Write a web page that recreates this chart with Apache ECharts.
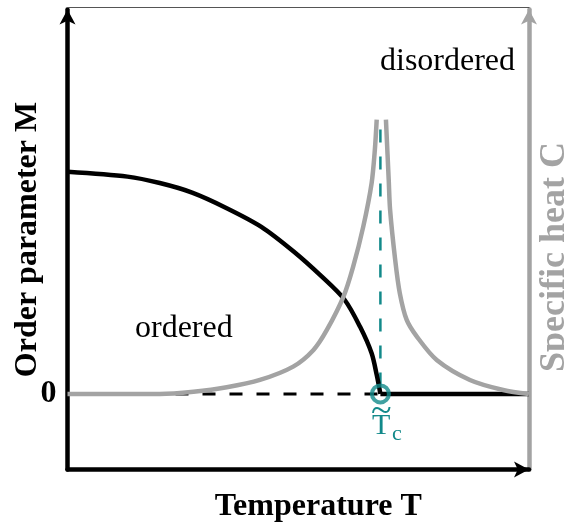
<!DOCTYPE html>
<html>
<head>
<meta charset="utf-8">
<script src="https://cdn.jsdelivr.net/npm/echarts@6/dist/echarts.min.js"></script>
<style>
  html, body { margin: 0; padding: 0; background: #fff; }
  #main { width: 564px; height: 527px; }
</style>
</head>
<body>
<div id="main"></div>
<script>
// critical temperature (scaled so the T axis runs 0..1)
var tc = 0.678;

// order parameter M below Tc
var mT = [0, 0.13, 0.2, 0.27, 0.345, 0.42, 0.49, 0.55, 0.6, 0.634, 0.659, 0.67, 0.678];
var mVal = [1.0, 0.978, 0.949, 0.906, 0.836, 0.752, 0.641, 0.53, 0.425, 0.302, 0.183, 0.086, 0];

// specific heat C, branch below and above Tc
var cLowT = [0, 0.2, 0.273, 0.345, 0.417, 0.489, 0.533, 0.562, 0.598, 0.619, 0.641, 0.659, 0.666, 0.670];
var cLowVal = [0, 0.0, 0.01, 0.03, 0.063, 0.123, 0.198, 0.288, 0.438, 0.573, 0.754, 0.949, 1.099, 1.234];
var cHighT = [0.690, 0.696, 0.699, 0.710, 0.720, 0.735, 0.757, 0.800, 0.872, 0.944, 1.0];
var cHighVal = [1.234, 0.964, 0.829, 0.604, 0.454, 0.333, 0.258, 0.153, 0.063, 0.018, 0.0];

var yTicks = [0];

var serif = 'Liberation Serif';
var teal = '#12898a';
var grey = '#a3a3a3';

function pairs(xs, ys) {
    return xs.map(function (x, i) { return [x, ys[i]]; });
}

var myChart = echarts.init(document.getElementById('main'));

var option = {
    animation: false,
    grid: { left: 67.5, right: 35, top: 9.5, bottom: 57.5, containLabel: false, outerBoundsMode: 'none' },
    xAxis: [
        {
            type: 'value', min: 0, max: 1, position: 'bottom',
            axisLine: { onZero: false, lineStyle: { color: '#000', width: 4.5 }, symbol: ['none', 'arrow'], symbolSize: [12, 15] },
            axisTick: { show: false }, axisLabel: { show: false }, splitLine: { show: false },
            name: 'Temperature T', nameLocation: 'middle', nameGap: 21,
            nameTextStyle: { fontFamily: serif, fontSize: 32, fontWeight: 'bold', color: '#000', padding: [0, 0, 0, 40] }
        },
        {
            type: 'value', min: 0, max: 1, position: 'top', offset: 2,
            axisLine: { onZero: false, lineStyle: { color: '#555', width: 1.2 } },
            axisTick: { show: false }, axisLabel: { show: false }, splitLine: { show: false }
        }
    ],
    yAxis: [
        {
            type: 'value', min: -0.34, max: 1.73, position: 'left',
            axisLine: { onZero: false, lineStyle: { color: '#000', width: 4.5 }, symbol: ['none', 'arrow'], symbolSize: [12, 15] },
            axisTick: { show: false }, splitLine: { show: false },
            axisLabel: {
                customValues: yTicks, margin: 11,
                fontFamily: serif, fontSize: 32, fontWeight: 'bold', color: '#000'
            },
            name: 'Order parameter M', nameLocation: 'middle', nameRotate: 90, nameGap: 24,
            nameMoveOverlap: false,
            nameTextStyle: { fontFamily: serif, fontSize: 32, fontWeight: 'bold', color: '#000' }
        },
        {
            type: 'value', min: -0.34, max: 1.73, position: 'right',
            axisLine: { onZero: false, lineStyle: { color: grey, width: 4.5 }, symbol: ['none', 'arrow'], symbolSize: [12, 15] },
            axisTick: { show: false }, axisLabel: { show: false }, splitLine: { show: false },
            name: 'Specific heat C', nameLocation: 'middle', nameRotate: 90, nameGap: 8,
            nameTextStyle: { fontFamily: serif, fontSize: 36, fontWeight: 'bold', color: grey, padding: [0, 35, 0, 0] }
        }
    ],
    graphic: [
        { type: 'text', left: 380, top: 46, style: { text: 'disordered', font: '32px "Liberation Serif"', fill: '#000' } },
        { type: 'text', left: 135, top: 313, style: { text: 'ordered', font: '32px "Liberation Serif"', fill: '#000' } },
        { type: 'text', left: 372, top: 411, style: { text: 'T', font: '30px "Liberation Serif"', fill: teal } },
        { type: 'text', left: 371, top: 393, style: { text: '~', font: '38px "Liberation Serif"', fill: teal } },
        { type: 'text', left: 392, top: 423, style: { text: 'c', font: '22px "Liberation Serif"', fill: teal } }
    ],
    series: [
        {
            type: 'line', data: [[0, 0], [tc, 0]], symbol: 'none', silent: true,
            lineStyle: { color: '#000', width: 3, type: [13, 14] }
        },
        {
            type: 'line', data: [[tc, 1.19], [tc, 0]], symbol: 'none', silent: true,
            lineStyle: { color: teal, width: 2.5, type: [13, 14] }
        },
        {
            type: 'line', data: pairs(mT, mVal), symbol: 'none', silent: true,
            smooth: 0.3,
            lineStyle: { color: '#000', width: 4.5 }
        },
        {
            type: 'line', data: [[tc, 0], [1, 0]], symbol: 'none', silent: true,
            lineStyle: { color: '#000', width: 4.5 }
        },
        {
            type: 'line', yAxisIndex: 1, data: pairs(cLowT, cLowVal), symbol: 'none', silent: true,
            smooth: 0.3,
            lineStyle: { color: grey, width: 4.5 }
        },
        {
            type: 'line', yAxisIndex: 1, data: pairs(cHighT, cHighVal), symbol: 'none', silent: true,
            smooth: 0.3,
            lineStyle: { color: grey, width: 4.5 }
        },
        {
            type: 'scatter', data: [[tc, 0]], symbol: 'circle', symbolSize: 17, silent: true, z: 5,
            itemStyle: { color: 'rgba(0,0,0,0)', borderColor: teal, borderWidth: 4 }
        }
    ]
};

myChart.setOption(option);
</script>
</body>
</html>
